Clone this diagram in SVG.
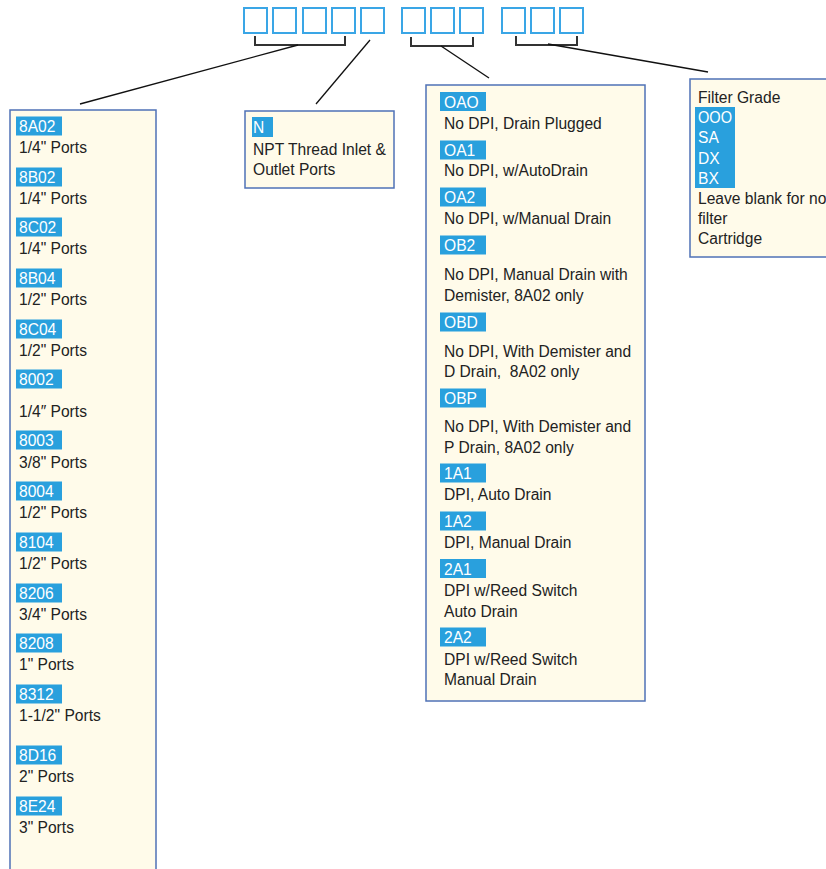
<svg xmlns="http://www.w3.org/2000/svg" width="826" height="869" viewBox="0 0 826 869">
<style>
  text { font-family: "Liberation Sans", Arial, sans-serif; font-size: 15.6px; fill: #222; }
  text.code { fill: #fff; }
  .box { fill: #FFFBEA; stroke: #4F72B6; stroke-width: 1.5; }
  .hl { fill: #29A0DD; }
  .sq { fill: #fff; stroke: #3AA6E6; stroke-width: 2; }
  .br { fill: none; stroke: #333; stroke-width: 2; }
  .ln { stroke: #111; stroke-width: 1.3; fill: none; }
</style>
<rect width="826" height="869" fill="#fff"/>

<g id="code-boxes">
  <rect class="sq" x="244" y="8" width="23" height="25"/>
  <rect class="sq" x="273" y="8" width="23" height="25"/>
  <rect class="sq" x="303" y="8" width="23" height="25"/>
  <rect class="sq" x="332" y="8" width="23" height="25"/>
  <rect class="sq" x="361" y="8" width="23" height="25"/>
  <rect class="sq" x="402" y="8" width="23" height="25"/>
  <rect class="sq" x="431" y="8" width="23" height="25"/>
  <rect class="sq" x="460" y="8" width="23" height="25"/>
  <rect class="sq" x="502" y="8" width="23" height="25"/>
  <rect class="sq" x="531" y="8" width="23" height="25"/>
  <rect class="sq" x="560" y="8" width="23" height="25"/>
</g>

<g id="connectors">
  <path class="br" d="M255 36 V45 H345 V36"/>
  <path class="br" d="M411 37 V46 H473 V37"/>
  <path class="br" d="M516 36 V45 H577 V36"/>
  <line class="ln" x1="298" y1="45" x2="80" y2="104"/>
  <line class="ln" x1="370" y1="40" x2="316" y2="104"/>
  <line class="ln" x1="441" y1="46" x2="489" y2="78"/>
  <line class="ln" x1="548" y1="44" x2="708" y2="72"/>
</g>

<g id="port-size">
  <rect class="box" x="10" y="110" width="146" height="770"/>
  <rect class="hl" x="16" y="116.5" width="46" height="19"/><text class="code" x="19" y="132">8A02</text><text x="19" y="153">1/4" Ports</text>
  <rect class="hl" x="16" y="167.5" width="46" height="19"/><text class="code" x="19" y="183">8B02</text><text x="19" y="204">1/4" Ports</text>
  <rect class="hl" x="16" y="217.5" width="46" height="19"/><text class="code" x="19" y="233">8C02</text><text x="19" y="254">1/4" Ports</text>
  <rect class="hl" x="16" y="268.5" width="46" height="19"/><text class="code" x="19" y="284">8B04</text><text x="19" y="305">1/2" Ports</text>
  <rect class="hl" x="16" y="319.5" width="46" height="19"/><text class="code" x="19" y="335">8C04</text><text x="19" y="356">1/2" Ports</text>
  <rect class="hl" x="16" y="369.5" width="46" height="19"/><text class="code" x="19" y="385">8002</text><text x="19" y="417">1/4″ Ports</text>
  <rect class="hl" x="16" y="430.5" width="46" height="19"/><text class="code" x="19" y="446">8003</text><text x="19" y="468">3/8" Ports</text>
  <rect class="hl" x="16" y="481.5" width="46" height="19"/><text class="code" x="19" y="497">8004</text><text x="19" y="518">1/2" Ports</text>
  <rect class="hl" x="16" y="532.5" width="46" height="19"/><text class="code" x="19" y="548">8104</text><text x="19" y="569">1/2" Ports</text>
  <rect class="hl" x="16" y="583.5" width="46" height="19"/><text class="code" x="19" y="599">8206</text><text x="19" y="620">3/4" Ports</text>
  <rect class="hl" x="16" y="633.5" width="46" height="19"/><text class="code" x="19" y="649">8208</text><text x="19" y="670">1" Ports</text>
  <rect class="hl" x="16" y="684.5" width="46" height="19"/><text class="code" x="19" y="700">8312</text><text x="19" y="721">1-1/2" Ports</text>
  <rect class="hl" x="16" y="745.5" width="46" height="19"/><text class="code" x="19" y="761">8D16</text><text x="19" y="782">2" Ports</text>
  <rect class="hl" x="16" y="796.5" width="46" height="19"/><text class="code" x="19" y="812">8E24</text><text x="19" y="833">3" Ports</text>
</g>

<g id="thread">
  <rect class="box" x="245" y="111" width="149" height="77"/>
  <rect class="hl" x="252" y="117" width="21" height="20"/><text class="code" x="253" y="133">N</text>
  <text x="253" y="155">NPT Thread Inlet &amp;</text>
  <text x="253" y="175">Outlet Ports</text>
</g>

<g id="options">
  <rect class="box" x="426" y="85" width="219" height="616"/>
  <rect class="hl" x="440" y="92" width="46" height="19"/><text class="code" x="444" y="108">OAO</text>
  <text x="444" y="129">No DPI, Drain Plugged</text>
  <rect class="hl" x="440" y="140.5" width="46" height="19"/><text class="code" x="444" y="156">OA1</text>
  <text x="444" y="176">No DPI, w/AutoDrain</text>
  <rect class="hl" x="440" y="187.5" width="46" height="19"/><text class="code" x="444" y="203">OA2</text>
  <text x="444" y="224">No DPI, w/Manual Drain</text>
  <rect class="hl" x="440" y="235.5" width="46" height="19"/><text class="code" x="444" y="251">OB2</text>
  <text x="444" y="280">No DPI, Manual Drain with</text>
  <text x="444" y="301">Demister, 8A02 only</text>
  <rect class="hl" x="440" y="312.5" width="46" height="19"/><text class="code" x="444" y="328">OBD</text>
  <text x="444" y="357">No DPI, With Demister and</text>
  <text x="444" y="377" xml:space="preserve">D Drain,  8A02 only</text>
  <rect class="hl" x="440" y="388.5" width="46" height="19"/><text class="code" x="444" y="404">OBP</text>
  <text x="444" y="432">No DPI, With Demister and</text>
  <text x="444" y="453">P Drain, 8A02 only</text>
  <rect class="hl" x="440" y="463.5" width="46" height="19"/><text class="code" x="444" y="479">1A1</text>
  <text x="444" y="500">DPI, Auto Drain</text>
  <rect class="hl" x="440" y="511.5" width="46" height="19"/><text class="code" x="444" y="527">1A2</text>
  <text x="444" y="548">DPI, Manual Drain</text>
  <rect class="hl" x="440" y="559" width="46" height="19"/><text class="code" x="444" y="575">2A1</text>
  <text x="444" y="596">DPI w/Reed Switch</text>
  <text x="444" y="617">Auto Drain</text>
  <rect class="hl" x="440" y="627.5" width="46" height="19"/><text class="code" x="444" y="643">2A2</text>
  <text x="444" y="665">DPI w/Reed Switch</text>
  <text x="444" y="685">Manual Drain</text>
</g>

<g id="filter-grade">
  <rect class="box" x="690" y="79" width="150" height="178"/>
  <text x="698" y="103">Filter Grade</text>
  <rect class="hl" x="695" y="107" width="40" height="81"/>
  <text class="code" x="698" y="123" textLength="34" lengthAdjust="spacingAndGlyphs">OOO</text>
  <text class="code" x="698" y="143">SA</text>
  <text class="code" x="698" y="164">DX</text>
  <text class="code" x="698" y="184">BX</text>
  <text x="698" y="204">Leave blank for no</text>
  <text x="698" y="224">filter</text>
  <text x="698" y="244">Cartridge</text>
</g>
</svg>
